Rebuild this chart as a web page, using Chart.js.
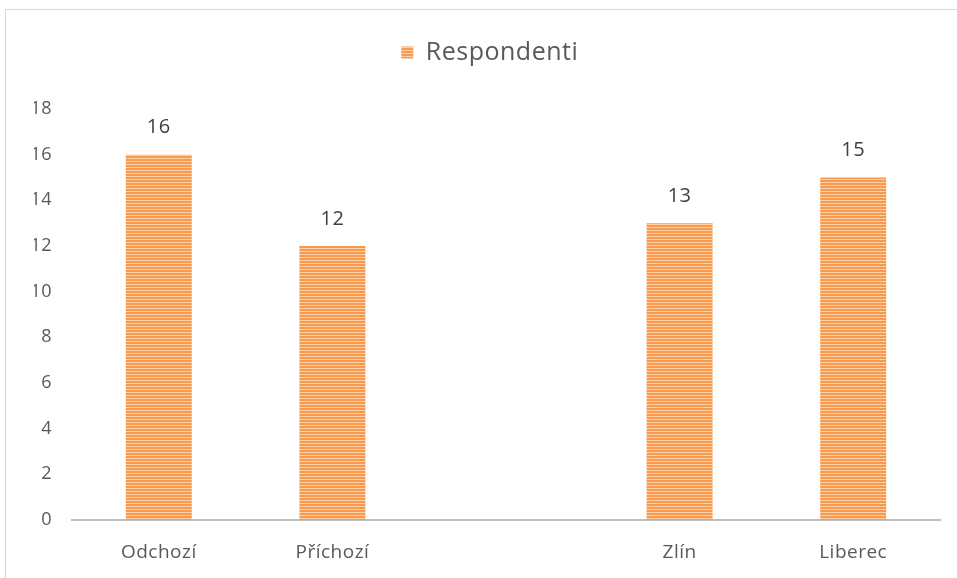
<!DOCTYPE html>
<html>
<head>
<meta charset="utf-8">
<script src="https://cdn.jsdelivr.net/npm/chart.js@4/dist/chart.umd.min.js"></script>
<style>
  html, body { margin: 0; padding: 0; background: #fff; overflow: hidden; }
  #wrap { position: relative; width: 957px; height: 578px; }
  #frame { position: absolute; left: 5px; top: 9px; width: 960px; height: 580px; border: 1px solid #d9d9d9; box-sizing: border-box; }
  canvas { position: absolute; left: 0; top: 0; }
</style>
</head>
<body>
<div id="wrap">
  <div id="frame"></div>
  <canvas id="chart" width="957" height="578"></canvas>
</div>
<script>
// data
const categories = ["Odchozí", "Příchozí", "", "Zlín", "Liberec"];
const respondenti = [16, 12, null, 13, 15];
const yTicks = [0, 2, 4, 6, 8, 10, 12, 14, 16, 18];

const FONT = "'Open Sans', 'Noto Sans', sans-serif";

const ctx = document.getElementById("chart").getContext("2d");

// striped orange fill
const stripes = ctx.createPattern((() => {
  const c = document.createElement("canvas");
  c.width = 4; c.height = 3;
  const g = c.getContext("2d");
  g.fillStyle = "#F79A4F";
  g.fillRect(0, 0, 4, 3);
  g.fillStyle = "#FCD0A6";
  g.fillRect(0, 2, 4, 1);
  return c;
})(), "repeat");

// values above bars
const valueLabels = {
  id: "valueLabels",
  afterDatasetsDraw(chart) {
    const c = chart.ctx;
    const meta = chart.getDatasetMeta(0);
    c.save();
    c.font = "20px " + FONT;
    c.fillStyle = "#404040";
    c.textAlign = "center";
    c.textBaseline = "middle";
    meta.data.forEach((bar, i) => {
      const v = respondenti[i];
      if (v == null) return;
      c.fillText(String(v), bar.x, bar.y - 27);
    });
    c.restore();
  }
};

// extra space under legend + slight letter spacing like the original
const tweaks = {
  id: "tweaks",
  beforeInit(chart) {
    const fit = chart.legend.fit;
    chart.legend.fit = function () {
      fit.bind(chart.legend)();
      this.height += 34;
    };
  },
  beforeDraw(chart) {
    chart.ctx.letterSpacing = "0.5px";
  }
};

new Chart(ctx, {
  type: "bar",
  data: {
    labels: categories,
    datasets: [{
      label: "Respondenti",
      data: respondenti,
      backgroundColor: stripes,
      borderWidth: 0,
      barPercentage: 0.38,
      categoryPercentage: 1
    }]
  },
  options: {
    responsive: false,
    animation: false,
    layout: { padding: { left: 34, right: 17, top: 30, bottom: 0 } },
    plugins: {
      legend: {
        position: "top",
        labels: {
          font: { family: FONT, size: 25 },
          color: "#595959",
          boxWidth: 12,
          boxHeight: 12,
          padding: 10
        }
      },
      tooltip: { enabled: false }
    },
    scales: {
      x: {
        afterFit: (s) => { s.height = 58; },
        grid: { display: false, drawTicks: false },
        border: { display: true, color: "#BFBFBF", width: 2 },
        ticks: { font: { family: FONT, size: 19 }, color: "#595959", padding: 21 }
      },
      y: {
        min: 0,
        max: 18,
        afterBuildTicks: (s) => { s.ticks = yTicks.map(v => ({ value: v })); },
        afterFit: (s) => { s.width = 38; },
        grid: { display: false, drawTicks: false },
        border: { display: false },
        ticks: { font: { family: FONT, size: 18 }, color: "#595959", padding: 20 }
      }
    }
  },
  plugins: [valueLabels, tweaks]
});
</script>
</body>
</html>
